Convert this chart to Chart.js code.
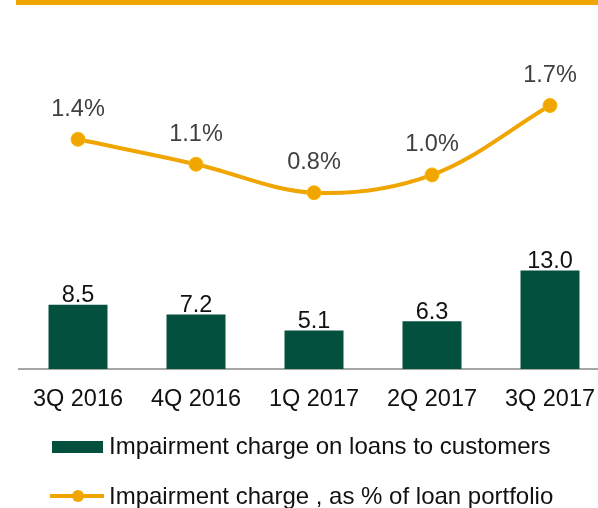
<!DOCTYPE html>
<html>
<head>
<meta charset="utf-8">
<script src="https://cdn.jsdelivr.net/npm/chart.js@4"></script>
<style>
  html, body { margin: 0; padding: 0; background: #fff; overflow: hidden; }
  #topbar { position: absolute; left: 16px; top: 0; width: 600px; height: 5px; background: #F0A500; }
  #chart { position: absolute; left: 0; top: 0; }
</style>
</head>
<body>
<canvas id="chart" width="617" height="508"></canvas>
<div id="topbar"></div>
<script>
// Impairment charge by quarter
const quarters = ['3Q 2016', '4Q 2016', '1Q 2017', '2Q 2017', '3Q 2017'];
const impairmentCharge = [8.5, 7.2, 5.1, 6.3, 13.0];
const chargeRatio = [1.4, 1.12, 0.8, 1.0, 1.78];
const ratioLabels = ['1.4%', '1.1%', '0.8%', '1.0%', '1.7%'];
const legendLabels = ['Impairment charge on loans to customers', 'Impairment charge , as % of loan portfolio'];

const GREEN = '#04503F';
const ORANGE = '#F0A500';
const FAMILY = '"Liberation Sans", Arial, sans-serif';

const labelPlugin = {
    id: 'valueLabels',
    afterDatasetsDraw(chart) {
        const ctx = chart.ctx;
        ctx.save();
        ctx.font = '23.5px ' + FAMILY;
        ctx.textAlign = 'center';
        ctx.textBaseline = 'alphabetic';
        ctx.fillStyle = '#111111';
        chart.getDatasetMeta(1).data.forEach((bar, i) => {
            ctx.fillText(impairmentCharge[i].toFixed(1), bar.x, bar.y - 2.5);
        });
        ctx.fillStyle = '#404040';
        chart.getDatasetMeta(0).data.forEach((pt, i) => {
            ctx.fillText(ratioLabels[i], pt.x, pt.y - 23.5);
        });

        // legend
        ctx.font = '24px ' + FAMILY;
        ctx.textAlign = 'left';
        ctx.fillStyle = GREEN;
        ctx.fillRect(52, 441, 51, 12);
        ctx.fillStyle = '#111111';
        ctx.fillText(legendLabels[0], 109, 454);

        ctx.strokeStyle = ORANGE;
        ctx.lineWidth = 4;
        ctx.beginPath();
        ctx.moveTo(50, 496);
        ctx.lineTo(104, 496);
        ctx.stroke();
        ctx.fillStyle = ORANGE;
        ctx.beginPath();
        ctx.arc(78, 496, 6, 0, Math.PI * 2);
        ctx.fill();
        ctx.fillStyle = '#111111';
        ctx.fillText(legendLabels[1], 109, 504);
        ctx.restore();
    }
};

const ctx = document.getElementById('chart').getContext('2d');
const chart = new Chart(ctx, {
    type: 'bar',
    data: {
        labels: quarters,
        datasets: [{
            type: 'line',
            label: legendLabels[1],
            data: chargeRatio,
            yAxisID: 'y2',
            borderColor: ORANGE,
            borderWidth: 4,
            backgroundColor: ORANGE,
            pointBackgroundColor: ORANGE,
            pointBorderColor: '#F7B800',
            pointBorderWidth: 1,
            pointRadius: 7,
            tension: 0.35,
            clip: false,
        }, {
            label: legendLabels[0],
            data: impairmentCharge,
            yAxisID: 'y',
            backgroundColor: GREEN,
            barPercentage: 0.5,
            categoryPercentage: 1,
        }],
    },
    options: {
        responsive: false,
        animation: false,
        layout: { padding: { top: 20, left: 19, right: 0, bottom: 79 } },
        plugins: {
            legend: { display: false },
            tooltip: { enabled: false },
        },
        scales: {
            x: {
                grid: { display: false, drawTicks: false },
                border: { display: true, color: '#A6A6A6', width: 2 },
                ticks: {
                    padding: 16,
                    color: '#111111',
                    font: { family: FAMILY, size: 23.5 },
                    maxRotation: 0,
                },
                afterFit: (scale) => { scale.height = 60; },
            },
            y: { display: false, min: 0, max: 46.1 },
            y2: { display: false, min: -1.18, max: 2.74 },
        },
    },
    plugins: [labelPlugin],
});
</script>
</body>
</html>
